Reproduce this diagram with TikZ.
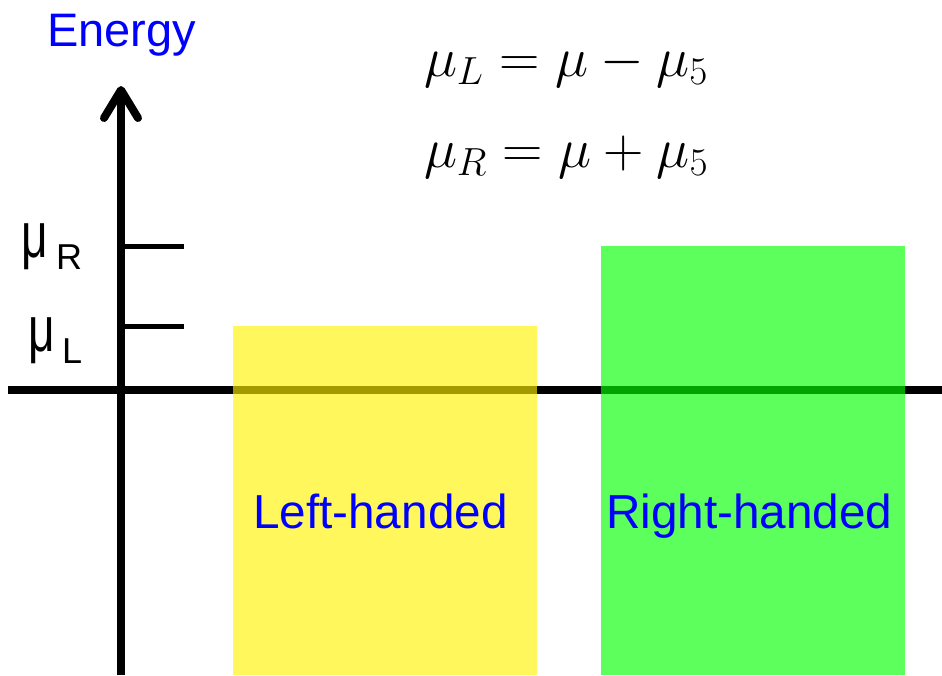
\RequirePackage{fix-cm}
\documentclass[tikz,border=0pt]{standalone}
\usepackage[no-math]{fontspec}
\setmainfont{Liberation Sans}
\usepackage{graphicx}
\definecolor{lblue}{RGB}{0,0,255}
\tikzset{
  axis/.style={line width=8pt, black},
  tick/.style={line width=5pt, black},
  band/.style={draw=none, fill opacity=0.64},
  txt/.style={inner sep=0pt, outer sep=0pt, anchor=base west},
  bluetxt/.style={txt, text=lblue, font=\fontsize{47.7}{50}\selectfont},
  eqtxt/.style={txt, font=\fontsize{56}{60}\selectfont},
}
\newcommand{\bigmu}{{\fontsize{64}{64}\selectfont\scalebox{0.72}[1]{μ}}}
\begin{document}
\begin{tikzpicture}[x=1pt,y=-1pt]
\useasboundingbox (0,0) rectangle (942,675);
% axes
\coordinate (hl) at (8,390);
\coordinate (hr) at (942,390);
\coordinate (vb) at (121,675);
\coordinate (vt) at (121,90);
\coordinate (al) at (104,118);
\coordinate (ar) at (138,118);
\draw[axis] (hl) -- (hr);
\draw[axis] (vb) -- (vt);
\draw[axis, line cap=round, line join=round] (al) -- (vt) -- (ar);
% ticks
\coordinate (tR0) at (121,246);
\coordinate (tR1) at (184,246);
\coordinate (tL0) at (121,326);
\coordinate (tL1) at (184,326);
\draw[tick] (tR0) -- (tR1);
\draw[tick] (tL0) -- (tL1);
% bands
\fill[band, fill=yellow] (233,326) rectangle (537,675);
\fill[band, fill=green] (601,246) rectangle (905,675);
% labels
\node[txt, text=lblue, font=\fontsize{47}{50}\selectfont] (energy) at (47,46) {Energy};
\node[bluetxt] (lh) at (253,528) {Left-handed};
\node[bluetxt] (rh) at (606,528) {Right-handed};
\node[txt] (muR) at (21,257) {\bigmu};
\node[txt, font=\fontsize{36}{36}\selectfont] (subR) at (56,269) {R};
\node[txt] (muL) at (28,351) {\bigmu};
\node[txt, font=\fontsize{36}{36}\selectfont] (subL) at (62,363) {L};
% equations
\node[eqtxt] (eq1) at (424,76) {$\mu_L = \mu - \mu_5$};
\node[eqtxt] (eq2) at (424,167) {$\mu_R = \mu + \mu_5$};
\end{tikzpicture}
\end{document}
